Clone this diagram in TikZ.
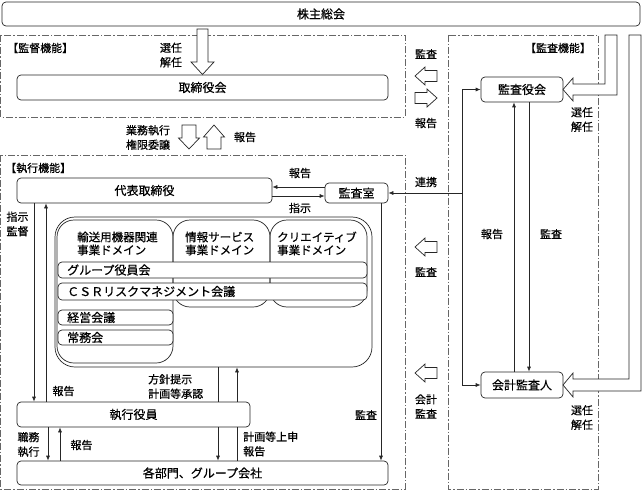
\documentclass[tikz,border=0pt]{standalone}
\usepackage{fontspec}
\setmainfont{Noto Sans CJK JP}[FakeBold=0.5]
\usetikzlibrary{arrows.meta,calc}
\newcommand\blkleft[2]{\draw[blk] (#1-11,#2) -- (#1-1,#2-9) -- (#1-1,#2-5.5) -- (#1+11,#2-5.5) -- (#1+11,#2+5.5) -- (#1-1,#2+5.5) -- (#1-1,#2+9) -- cycle;}
\newcommand\blkright[2]{\draw[blk] (#1+11,#2) -- (#1+1,#2-9) -- (#1+1,#2-5.5) -- (#1-11,#2-5.5) -- (#1-11,#2+5.5) -- (#1+1,#2+5.5) -- (#1+1,#2+9) -- cycle;}
\begin{document}
\begin{tikzpicture}[x=1pt,y=-1pt,
  box/.style={draw=black!85, line width=0.7pt, rounded corners=4pt, fill=white, inner sep=0pt, font=\fontsize{12}{14}\selectfont},
  region/.style={draw=black!60, line width=0.7pt, dash pattern=on 7pt off 2pt on 1.5pt off 2pt},
  lbl/.style={inner sep=0pt, font=\fontsize{11}{14.5}\selectfont, align=center},
  lbll/.style={lbl, align=left, anchor=west},
  domtxt/.style={inner sep=0pt, font=\fontsize{11.5}{13}\selectfont, align=left, anchor=west},
  bartxt/.style={inner sep=0pt, font=\fontsize{12}{14}\selectfont, anchor=west},
  arr/.style={draw=black!85, line width=0.7pt, -{Latex[length=5pt,width=4pt]}},
  ln/.style={draw=black!85, line width=0.7pt},
  blk/.style={draw=black!85, line width=0.7pt, fill=white, line join=miter},
  bar/.style={draw=black!85, line width=0.7pt, rounded corners=4pt, fill=white},
  dom/.style={draw=black!85, line width=0.7pt, rounded corners=17pt},
]
\useasboundingbox (0,0) rectangle (642,492);
\fill[white] (0,0) rectangle (642,492);

% regions
\draw[region] (0.5,35) rectangle (405,117);
\draw[region] (0.5,155) rectangle (405,489);
\draw[region] (448,35) rectangle (598,489);

% helper coordinates
\coordinate (c34) at (34,0);
\coordinate (c46) at (46,0);
\coordinate (c48) at (48,0);
\coordinate (c60) at (60,0);
\coordinate (c218) at (218,0);
\coordinate (c237) at (237,0);
\coordinate (c381) at (381,0);
\coordinate (c514) at (514,0);
\coordinate (c529) at (529,0);
\coordinate (r187) at (0,187);
\coordinate (r196) at (0,196);
\coordinate (j) at (462,193);

% inner execution area
\node[draw=black!85, line width=0.7pt, rounded corners=20pt, minimum width=317pt, minimum height=150pt, inner sep=0pt] (inner) at (213.5,292) {};
\draw[dom] (57,220) rectangle (173,363);
\draw[dom] (173,220) rectangle (270,307);
\draw[dom] (270,220) rectangle (367,307);
\node[domtxt] (d1) at (77,243.5) {輸送用機器関連\\事業ドメイン};
\node[domtxt] (d2) at (185,243.5) {情報サービス\\事業ドメイン};
\node[domtxt] (d3) at (277,243.5) {クリエイティブ\\事業ドメイン};
\draw[bar] (58,262) rectangle (367,278);
\draw[bar] (58,283) rectangle (367,300);
\draw[bar] (58,310) rectangle (173,325);
\draw[bar] (58,330) rectangle (173,345);
\node[bartxt] (grp) at (67,270) {グループ役員会};
\node[bartxt] (csr) at (67,291.5) {ＣＳＲリスクマネジメント会議};
\node[bartxt] (keiei) at (67,317.5) {経営会議};
\node[bartxt] (jomu) at (67,337.5) {常務会};

% main boxes
\node[box, minimum width=638pt, minimum height=24pt] (kabu) at (321,14) {株主総会};
\node[box, minimum width=371pt, minimum height=25pt] (tori) at (202.5,87.5) {取締役会};
\node[box, minimum width=255pt, minimum height=25pt] (daihyo) at (144.5,190.5) {代表取締役};
\node[box, minimum width=63pt, minimum height=20pt] (shitsu) at (356.5,193) {監査室};
\node[box, minimum width=82pt, minimum height=25pt] (yakukai) at (522,89.5) {監査役会};
\node[box, minimum width=82pt, minimum height=26pt] (kaikei) at (522,385) {会計監査人};
\node[box, minimum width=233pt, minimum height=25pt] (shikko) at (133.5,414.5) {執行役員};
\node[box, minimum width=371pt, minimum height=24pt] (kakubu) at (202.5,473) {各部門、グループ会社};

% arrows
\draw[ln] (kakubu.north -| c237) -- (shikko.south -| c237);
\draw[arr] (daihyo.east |- r196) -- (shitsu.west |- r196);
\draw[arr] (shitsu.west |- r187) -- (daihyo.east |- r187);
\draw[arr] (daihyo.south -| c34) -- (shikko.north -| c34);
\draw[arr] (shikko.north -| c46) -- (daihyo.south -| c46);
\draw[ln] (inner.south -| c218) -- (shikko.north -| c218);
\draw[arr] (shikko.south -| c218) -- (kakubu.north -| c218);
\draw[arr] (shikko.north -| c237) -- (inner.south -| c237);
\draw[arr] (shikko.south -| c48) -- (kakubu.north -| c48);
\draw[arr] (kakubu.north -| c60) -- (shikko.south -| c60);
\draw[arr] (shitsu.south -| c381) -- (kakubu.north -| c381);
\draw[arr] (j) -- (shitsu.east |- j);
\draw[arr] (j) |- (yakukai.west);
\draw[arr] (j) |- (kaikei.west);
\draw[arr] (kaikei.north -| c514) -- (yakukai.south -| c514);
\draw[arr] (yakukai.south -| c529) -- (kaikei.north -| c529);

% block arrows
\draw[blk] (197,29) -- (208,29) -- (208,62) -- (214,62) -- (202.5,74.5) -- (191,62) -- (197,62) -- cycle;
\draw[blk] (182,125) -- (196,125) -- (196,138) -- (199.5,138) -- (189,149) -- (178.5,138) -- (182,138) -- cycle;
\draw[blk] (207,149) -- (221,149) -- (221,137) -- (224.5,137) -- (214,125) -- (203.5,137) -- (207,137) -- cycle;
\blkleft{426}{76}
\blkright{426}{98}
\blkleft{426}{247}
\blkleft{426}{373}
\draw[blk] (605,35) -- (617,35) -- (617,95) -- (573,95) -- (573,101) -- (563,89.5) -- (573,78) -- (573,84) -- (605,84) -- cycle;
\draw[blk] (629,35) -- (641,35) -- (641,391) -- (573,391) -- (573,397) -- (563,385) -- (573,373) -- (573,379) -- (629,379) -- cycle;

% labels
\node[lbll] (l1) at (7,48) {【監督機能】};
\node[lbl] (l2) at (171,55) {選任\\解任};
\node[lbl] (l3) at (426,54) {監査};
\node[lbl] (l4) at (426,123) {報告};
\node[lbl] (l5) at (558,48) {【監査機能】};
\node[lbl] (l6) at (582,119.5) {選任\\解任};
\node[lbl] (l7) at (582,417.5) {選任\\解任};
\node[lbl] (l8) at (148,137.5) {業務執行\\権限委譲};
\node[lbl] (l9) at (245,137) {報告};
\node[lbll] (l10) at (5,168) {【執行機能】};
\node[lbl] (l11) at (300,173) {報告};
\node[lbl] (l12) at (300,208) {指示};
\node[lbl] (l13) at (426,182) {連携};
\node[lbl] (l14) at (17.5,224) {指示\\監督};
\node[lbl] (l15) at (492,234) {報告};
\node[lbl] (l16) at (551,234) {監査};
\node[lbl] (l17) at (426,272) {監査};
\node[lbl] (l18) at (426,406.5) {会計\\監査};
\node[lbl] (l19) at (63.5,391) {報告};
\node[lbll] (l20) at (148,386.5) {方針提示\\計画等承認};
\node[lbl] (l21) at (366,415) {監査};
\node[lbl] (l22) at (28.5,444.5) {職務\\執行};
\node[lbl] (l23) at (81.5,445) {報告};
\node[lbll] (l24) at (243,444) {計画等上申\\報告};
\end{tikzpicture}
\end{document}
